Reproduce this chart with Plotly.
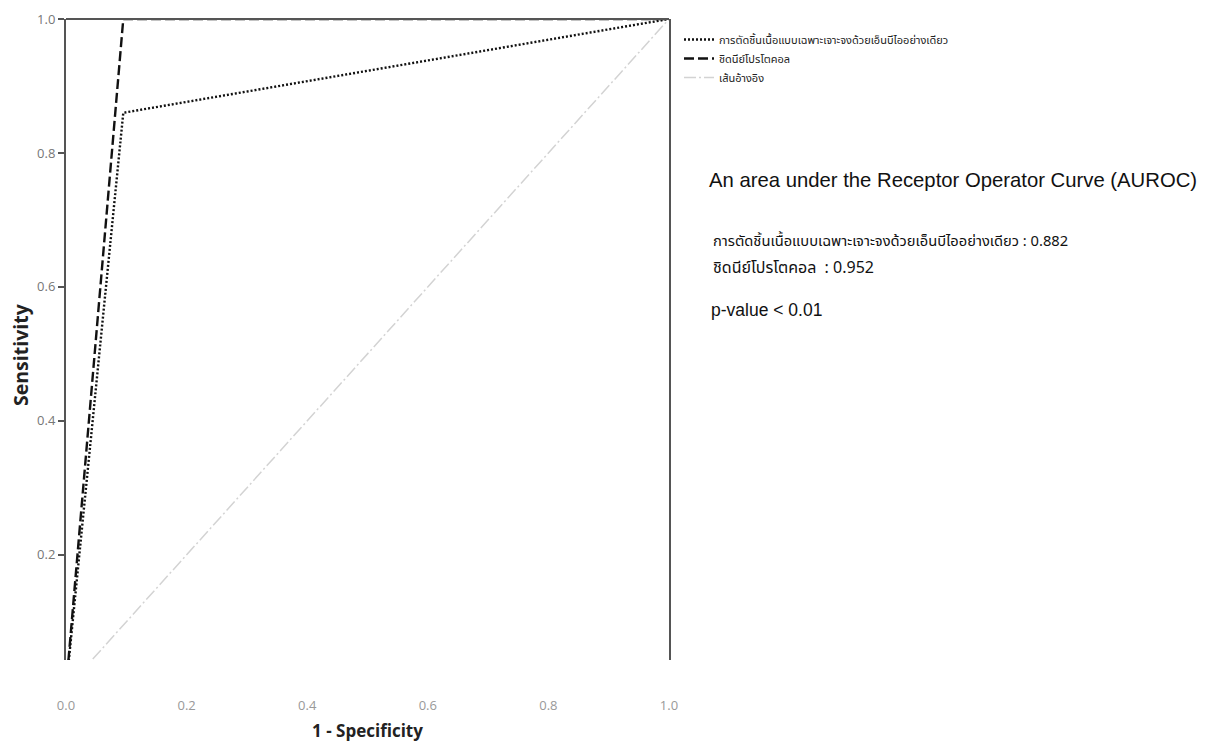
import plotly.graph_objects as go

# ---- data ----
fpr_nbi = [0.0, 0.095, 1.0]
tpr_nbi = [0.0, 0.86, 1.0]
fpr_sydney = [0.0, 0.095, 1.0]
tpr_sydney = [0.0, 1.0, 1.0]
ref_x = [0.0, 1.0]
ref_y = [0.0, 1.0]
names = ["การตัดชิ้นเนื้อแบบเฉพาะเจาะจงด้วยเอ็นบีไออย่างเดียว", "ชิดนีย์โปรโตคอล", "เส้นอ้างอิง"]
auc_values = [0.882, 0.952]
tick_vals = [0.0, 0.2, 0.4, 0.6, 0.8, 1.0]
tick_text = ["0.0", "0.2", "0.4", "0.6", "0.8", "1.0"]

THAI = "Tahoma, 'Noto Sans Thai', 'Leelawadee UI', 'Noto Sans', sans-serif"
SANS = "'Liberation Sans', Arial, sans-serif"
OPEN = "'Open Sans', 'Noto Sans', sans-serif"

# layout geometry (page has an 8px body margin)
OFF = 8
W, H = 1205 - OFF, 742 - OFF
L, T = 66 - OFF, 19 - OFF
R = W - (669 - OFF)
B = H - (660 - OFF)
PW, PH = W - L - R, H - T - B


def px(x):
    return (x - OFF - L) / PW


def py(y):
    return 1 - (y - OFF - T) / PH


fig = go.Figure()
fig.add_trace(go.Scatter(x=ref_x, y=ref_y, mode="lines", name=names[2],
                         line=dict(color="#d3d3d3", width=1.5, dash="12px,3px,2px,3px"),
                         legendrank=3))
fig.add_trace(go.Scatter(x=fpr_nbi, y=tpr_nbi, mode="lines", name=names[0],
                         line=dict(color="#111111", width=2.4, dash="2px,2px"),
                         legendrank=1))
fig.add_trace(go.Scatter(x=fpr_sydney, y=tpr_sydney, mode="lines", name=names[1],
                         line=dict(color="#111111", width=2.4, dash="10px,4px"),
                         legendrank=2))

fig.update_layout(
    width=W, height=H,
    margin=dict(l=L, r=R, t=T, b=B, autoexpand=False),
    paper_bgcolor="white", plot_bgcolor="white",
    font=dict(family=OPEN, color="#666666"),
    showlegend=True,
    legend=dict(x=px(679), y=py(25), xanchor="left", yanchor="top",
                font=dict(family=THAI, size=11, color="#222222"),
                itemwidth=30, tracegroupgap=0, bgcolor="rgba(0,0,0,0)"),
)

fig.update_xaxes(range=[0, 1], tickvals=tick_vals, ticktext=tick_text,
                 showgrid=False, zeroline=False, showline=False, ticks="",
                 ticklabelstandoff=36, automargin=False,
                 tickfont=dict(size=13, color="#999999"),
                 title=dict(text="<b>1 - Specificity</b>", standoff=14,
                            font=dict(size=17, color="#222222", family=OPEN)))
fig.update_yaxes(range=[0.043, 1.0], tickvals=tick_vals, ticktext=tick_text,
                 showgrid=False, zeroline=False, showline=True, mirror=True,
                 linecolor="#555555", linewidth=2, automargin=False,
                 ticks="outside", ticklen=6, tickcolor="#555555", tickwidth=1.5,
                 tickfont=dict(size=13, color="#777777"))

# y-axis title (sits lower than the plot centre in the reference)
fig.add_annotation(xref="paper", yref="paper", x=px(20), y=py(355), xanchor="center",
                   yanchor="middle", showarrow=False, textangle=-90,
                   text="<b>Sensitivity</b>",
                   font=dict(size=19.5, color="#222222", family=OPEN))

# top frame line
fig.add_shape(type="line", xref="x", yref="paper", x0=0, x1=1, y0=1, y1=1,
              line=dict(color="#555555", width=2))

fig.add_annotation(xref="paper", yref="paper", x=px(707), y=py(180), xanchor="left",
                   yanchor="middle", showarrow=False,
                   text="An area under the Receptor Operator Curve (AUROC)",
                   font=dict(family=SANS, size=20.3, color="#111111"))
fig.add_annotation(xref="paper", yref="paper", x=px(711), y=py(241), xanchor="left",
                   yanchor="middle", showarrow=False,
                   text=f"{names[0]} : {auc_values[0]:.3f}",
                   font=dict(family=THAI, size=14.7, color="#111111"))
fig.add_annotation(xref="paper", yref="paper", x=px(711), y=py(268), xanchor="left",
                   yanchor="middle", showarrow=False,
                   text=f"{names[1]}  : {auc_values[1]:.3f}",
                   font=dict(family=THAI, size=16, color="#111111"))
fig.add_annotation(xref="paper", yref="paper", x=px(709), y=py(310), xanchor="left",
                   yanchor="middle", showarrow=False,
                   text="p-value < 0.01",
                   font=dict(family=SANS, size=17.5, color="#111111"))

fig.write_html("out.html")
